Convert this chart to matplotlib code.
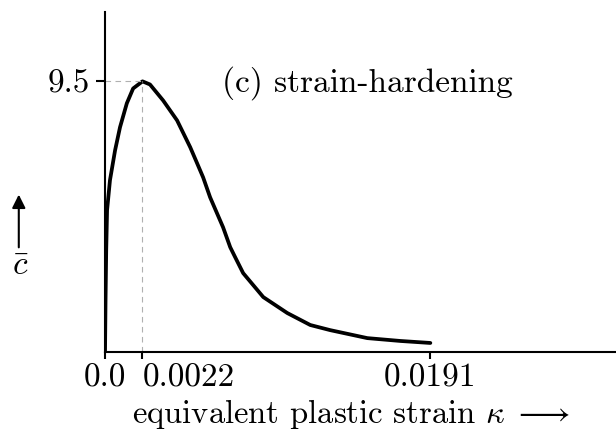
import matplotlib.pyplot as plt

plt.rcParams['font.family'] = 'serif'
plt.rcParams['font.serif'] = ['cmr10']
plt.rcParams['mathtext.fontset'] = 'cm'
plt.rcParams['axes.unicode_minus'] = False

# curve: equivalent plastic strain vs c-bar
kappa = [0.0, 0.00003, 0.00007, 0.00012, 0.00029, 0.00059, 0.00088, 0.00128, 0.00165,
         0.0022, 0.00264, 0.00341, 0.00423, 0.005, 0.00541, 0.00576, 0.00617, 0.00693,
         0.00735, 0.00764, 0.00811, 0.00929, 0.0107, 0.01205, 0.01322, 0.0154, 0.01734,
         0.0191]
cbar = [0.0, 1.82, 3.58, 4.98, 6.03, 7.08, 7.89, 8.73, 9.25,
        9.5, 9.39, 8.83, 8.13, 7.19, 6.62, 6.13, 5.43, 4.38,
        3.68, 3.33, 2.77, 1.93, 1.37, 0.95, 0.77, 0.49, 0.39,
        0.32]

peak_k = 0.0022
peak_c = 9.5
xticks = [0.0, 0.0022, 0.0191]
xticklabels = ['0.0', '0.0022', '0.0191']

fig = plt.figure(figsize=(6.16, 4.32), dpi=100)
ax = fig.add_axes([0.1705, 0.185, 0.8295, 0.787])

ax.plot(kappa, cbar, color='black', linewidth=2.7, solid_capstyle='round',
        solid_joinstyle='round')

# dashed guide lines to the peak
ax.plot([0, peak_k], [peak_c, peak_c], color='#b0b0b0', linestyle=(0, (5, 4)), linewidth=0.8)
ax.plot([peak_k, peak_k], [0, peak_c], color='#b0b0b0', linestyle=(0, (5, 4)), linewidth=0.8)

ax.set_xlim(0, 0.030)
ax.set_ylim(0, 11.93)

ax.spines['top'].set_visible(False)
ax.spines['right'].set_visible(False)
ax.spines['left'].set_linewidth(1.5)
ax.spines['bottom'].set_linewidth(1.5)

ax.set_xticks(xticks)
ax.set_xticklabels(xticklabels, fontsize=24)
ax.get_xticklabels()[1].set_ha('left')
ax.set_yticks([peak_c])
ax.set_yticklabels(['9.5'], fontsize=24)
ax.tick_params(axis='x', direction='out', length=5, width=1.5, pad=3)
ax.tick_params(axis='y', direction='out', length=6.5, width=1.5, pad=4)

ax.text(0.00688, 9.43, '(c) strain-hardening', fontsize=24, va='center', ha='left')

fig.text(0.570, 0.042, r'equivalent plastic strain $\kappa\;\longrightarrow$', fontsize=23.5,
         ha='center', va='center')

# y label with upward arrow
ax.annotate('', xy=(0.0305, 0.556), xytext=(0.0305, 0.421), xycoords='figure fraction',
            arrowprops=dict(arrowstyle='-|>', color='black', lw=1.5, mutation_scale=20))
fig.text(0.0325, 0.384, r'$\bar{c}$', fontsize=24, ha='center', va='center')

fig.savefig('out.png', dpi=100)
